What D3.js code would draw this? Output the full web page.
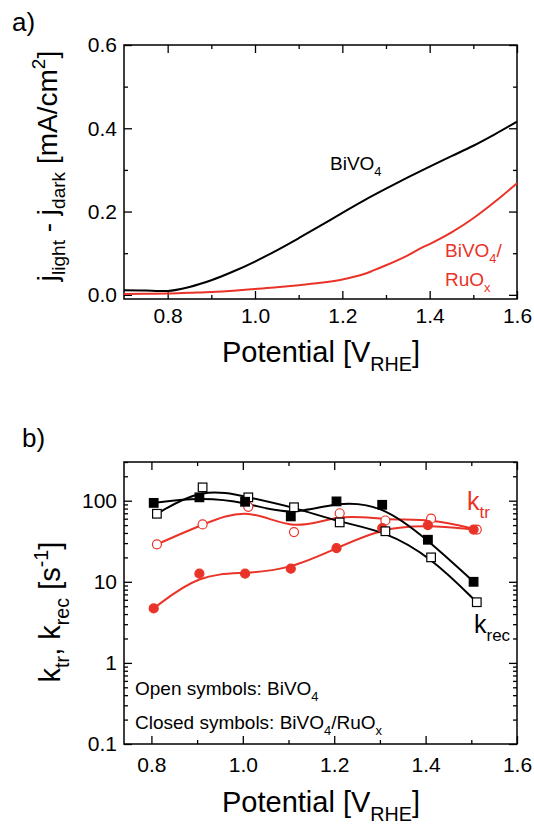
<!DOCTYPE html>
<meta charset="utf-8">
<head>
  <style>
    body { margin: 0; background: #fff; }
    svg { font-family: "Liberation Sans", Arial, sans-serif; }
    .frame { fill: none; stroke: #000; stroke-width: 1.5px; }
    .tick line { stroke: #000; stroke-width: 1.3px; }
    .domain { display: none; }
    .tick text { font-size: 21px; fill: #000; }
    .curve { fill: none; stroke-width: 2px; }
  </style>
  <script src="https://cdn.jsdelivr.net/npm/d3@7"></script>
</head>
<body>
<script>
  // ---- panel a : photocurrent ----
  var potBlack = [0.70, 0.75, 0.78, 0.80, 0.85, 0.90, 0.95, 1.00, 1.05, 1.10, 1.15, 1.20, 1.25, 1.30, 1.35, 1.40, 1.45, 1.50, 1.55, 1.60];
  var jBiVO4   = [0.011, 0.0105, 0.009, 0.0095, 0.019, 0.035, 0.056, 0.080, 0.107, 0.136, 0.166, 0.197, 0.227, 0.255, 0.282, 0.308, 0.333, 0.358, 0.386, 0.416];
  var potRed   = [0.70, 0.75, 0.80, 0.85, 0.90, 0.95, 1.00, 1.05, 1.10, 1.15, 1.20, 1.25, 1.27, 1.30, 1.35, 1.38, 1.40, 1.45, 1.50, 1.55, 1.60];
  var jRuOx    = [0.002, 0.0025, 0.003, 0.005, 0.007, 0.010, 0.014, 0.018, 0.023, 0.029, 0.037, 0.050, 0.058, 0.071, 0.095, 0.112, 0.122, 0.150, 0.184, 0.224, 0.268];

  var aXMajor = [0.8, 1.0, 1.2, 1.4, 1.6], aXMinor = [0.9, 1.1, 1.3, 1.5];
  var aYMajor = [0.0, 0.2, 0.4, 0.6],      aYMinor = [0.1, 0.3, 0.5];

  // ---- panel b : rate constants (log) ----
  var potClosed  = [0.805, 0.905, 1.005, 1.105, 1.205, 1.305, 1.405, 1.505];
  var potOpen    = [0.812, 0.912, 1.012, 1.112, 1.212, 1.312, 1.412, 1.512];
  var krecClosed = [94, 110, 97, 64, 98, 89, 33, 10];
  var krecOpen   = [69, 146, 110, 83, 54, 42, 20, 5.6];
  var ktrOpen    = [29, 51, 84, 41, 70, 57, 60, 44];
  var ktrClosed  = [4.7, 12.6, 12.6, 14.5, 26, 46, 50, 44];

  var bXMajor = [0.8, 1.0, 1.2, 1.4, 1.6], bXMinor = [0.9, 1.1, 1.3, 1.5];
  var bYMajor = [0.1, 1, 10, 100];
  var bYLabels = ["0.1", "1", "10", "100"];

  var red = "#ea3328";

  var svg = d3.select("body").append("svg")
      .attr("width", 534)
      .attr("height", 826);

  var xa = d3.scaleLinear().domain([0.7, 1.6]).range([124, 517]);
  var ya = d3.scaleLinear().domain([-0.01, 0.6]).range([299, 45]);
  var xb = d3.scaleLinear().domain([0.74, 1.6]).range([124, 517]);
  var yb = d3.scaleLog().domain([0.1, 300]).range([744, 462]);

  var bMinorY = [];
  bYMajor.forEach(function(d) { for (var m = 2; m < 10; m++) if (d * m <= 300) bMinorY.push(d * m); });

  // inward ticks on all four sides
  function frameAxes(x, y, xMaj, xMin, yMaj, yMin, xFmt, yFmt, xPad) {
    var x0 = x.range()[0], x1 = x.range()[1], y0 = y.range()[0], y1 = y.range()[1];
    var g = svg.append("g");

    g.append("g").attr("transform", "translate(0," + y0 + ")")
      .call(d3.axisBottom(x).tickValues(xMaj).tickSize(-8).tickSizeOuter(0).tickPadding(xPad).tickFormat(xFmt));
    g.append("g").attr("transform", "translate(0," + y0 + ")")
      .call(d3.axisBottom(x).tickValues(xMin).tickSize(-4).tickSizeOuter(0).tickFormat(""));
    g.append("g").attr("transform", "translate(0," + y1 + ")")
      .call(d3.axisTop(x).tickValues(xMaj).tickSize(-8).tickSizeOuter(0).tickFormat(""));
    g.append("g").attr("transform", "translate(0," + y1 + ")")
      .call(d3.axisTop(x).tickValues(xMin).tickSize(-4).tickSizeOuter(0).tickFormat(""));

    g.append("g").attr("transform", "translate(" + x0 + ",0)")
      .call(d3.axisLeft(y).tickValues(yMaj).tickSize(-8).tickSizeOuter(0).tickPadding(7).tickFormat(yFmt));
    g.append("g").attr("transform", "translate(" + x0 + ",0)")
      .call(d3.axisLeft(y).tickValues(yMin).tickSize(-4).tickSizeOuter(0).tickFormat(""));
    g.append("g").attr("transform", "translate(" + x1 + ",0)")
      .call(d3.axisRight(y).tickValues(yMaj).tickSize(-8).tickSizeOuter(0).tickFormat(""));
    g.append("g").attr("transform", "translate(" + x1 + ",0)")
      .call(d3.axisRight(y).tickValues(yMin).tickSize(-4).tickSizeOuter(0).tickFormat(""));

    g.append("rect").attr("class", "frame")
      .attr("x", x0).attr("y", y1).attr("width", x1 - x0).attr("height", y0 - y1);
  }

  // text with sub / superscripts: parts = [[text, "sub"|"sup"|undefined], ...]
  function rich(sel, parts, size) {
    var shift = 0;
    parts.forEach(function(p) {
      var target = p[1] === "sub" ? 0.3 * size : p[1] === "sup" ? -0.42 * size : 0;
      sel.append("tspan")
        .attr("dy", target - shift)
        .attr("font-size", p[1] ? size * 0.68 : size)
        .text(p[0]);
      shift = target;
    });
    return sel;
  }

  function label(x, y, parts, size, color, anchor, rot) {
    var t = svg.append("text")
        .attr("fill", color || "#000")
        .attr("text-anchor", anchor || "start")
        .attr("font-size", size);
    if (rot) t.attr("transform", "translate(" + x + "," + y + ")rotate(-90)");
    else t.attr("x", x).attr("y", y);
    return rich(t, parts, size);
  }

  // ---------------- panel a ----------------
  frameAxes(xa, ya, aXMajor, aXMinor, aYMajor, aYMinor, d3.format(".1f"), d3.format(".1f"), 9);

  var lineA = d3.line().curve(d3.curveMonotoneX);
  svg.append("path").attr("class", "curve").attr("stroke", "#000")
    .attr("d", lineA(potBlack.map(function(p, i) { return [xa(p), ya(jBiVO4[i])]; })));
  svg.append("path").attr("class", "curve").attr("stroke", red)
    .attr("d", lineA(potRed.map(function(p, i) { return [xa(p), ya(jRuOx[i])]; })));

  label(12, 31, [["a)"]], 26);
  label(330, 170, [["BiVO"], ["4", "sub"]], 19);
  label(445, 257, [["BiVO"], ["4", "sub"], ["/"]], 19, red);
  label(445, 286, [["RuO"], ["x", "sub"]], 19, red);
  label(321, 362, [["Potential [V"], ["RHE", "sub"], ["]"]], 29, "#000", "middle");
  label(57, 166, [["j"], ["light", "sub"], [" - j"], ["dark", "sub"], [" [mA/cm"], ["2", "sup"], ["]"]], 28, "#000", "middle", true);

  // ---------------- panel b ----------------
  frameAxes(xb, yb, bXMajor, bXMinor, bYMajor, bMinorY, d3.format(".1f"),
            function(d, i) { return bYLabels[i]; }, 13);

  var lineB = d3.line().curve(d3.curveBasis);   // B-spline connection
  var series = [
    {x: potOpen,   y: ktrOpen,    color: red,    shape: "circle", open: true},
    {x: potClosed, y: ktrClosed,  color: red,    shape: "circle", open: false},
    {x: potOpen,   y: krecOpen,   color: "#000", shape: "square", open: true},
    {x: potClosed, y: krecClosed, color: "#000", shape: "square", open: false}
  ];

  series.forEach(function(s) {
    svg.append("path").attr("class", "curve").attr("stroke", s.color)
      .attr("d", lineB(s.x.map(function(p, i) { return [xb(p), yb(s.y[i])]; })));
  });

  series.forEach(function(s) {
    var g = svg.append("g");
    var pts = s.x.map(function(p, i) { return [xb(p), yb(s.y[i])]; });
    if (s.shape === "circle") {
      g.selectAll("circle").data(pts).enter().append("circle")
        .attr("cx", function(d) { return d[0]; })
        .attr("cy", function(d) { return d[1]; })
        .attr("r", 4.5)
        .attr("fill", s.open ? "#fff" : s.color)
        .attr("stroke", s.color).attr("stroke-width", 1.2);
    } else {
      g.selectAll("rect").data(pts).enter().append("rect")
        .attr("x", function(d) { return d[0] - 4.3; })
        .attr("y", function(d) { return d[1] - 4.3; })
        .attr("width", 8.6).attr("height", 8.6)
        .attr("fill", s.open ? "#fff" : s.color)
        .attr("stroke", s.color).attr("stroke-width", 1.2);
    }
  });

  label(22, 447, [["b)"]], 26);
  label(467, 510, [["k"], ["tr", "sub"]], 25, red);
  label(474, 633, [["k"], ["rec", "sub"]], 25);
  label(135, 695, [["Open symbols: BiVO"], ["4", "sub"]], 19);
  label(135, 729, [["Closed symbols: BiVO"], ["4", "sub"], ["/RuO"], ["x", "sub"]], 19);
  label(321, 812, [["Potential [V"], ["RHE", "sub"], ["]"]], 29, "#000", "middle");
  label(60, 612, [["k"], ["tr", "sub"], [", k"], ["rec", "sub"], [" [s"], ["-1", "sup"], ["]"]], 29, "#000", "middle", true);
</script>
</body>
